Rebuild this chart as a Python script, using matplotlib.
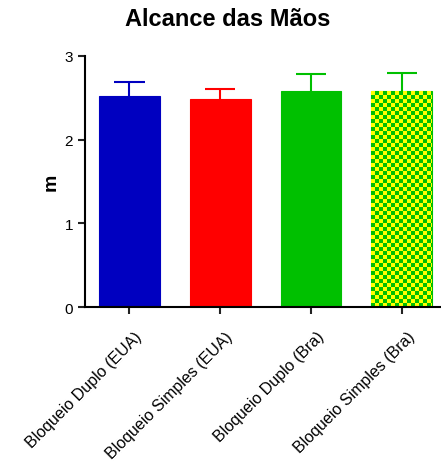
import numpy as np
import matplotlib
matplotlib.use("Agg")
import matplotlib.pyplot as plt
from matplotlib.transforms import ScaledTranslation

plt.rcParams['font.family'] = ['Liberation Sans', 'DejaVu Sans']

categories = ["Bloqueio Duplo (EUA)", "Bloqueio Simples (EUA)",
              "Bloqueio Duplo (Bra)", "Bloqueio Simples (Bra)"]
means = [2.52, 2.49, 2.58, 2.58]
errors = [0.17, 0.11, 0.21, 0.22]
colors = ["#0000C0", "#FF0000", "#00C000", "#00C000"]
title = "Alcance das Mãos"
ylabel = "m"

W, H = 441, 464
fig = plt.figure(figsize=(W / 100, H / 100), dpi=100)
ax = fig.add_axes([85 / W, (H - 308) / H, (440 - 85) / W, (308 - 57) / H])

x = np.arange(len(categories))
width = 0.67
ax.set_xlim(-0.49, 3.42)
ax.set_ylim(0, 3)

# error bars (upper only), drawn behind bars
for xi, m, e, c in zip(x, means, errors, colors):
    ax.vlines(xi, m, m + e, color=c, linewidth=1.5, zorder=1.5)
    ax.hlines(m + e, xi - width / 4, xi + width / 4, color=c, linewidth=1.5, zorder=1.5)

bars = ax.bar(x, means, width=width, color=colors, edgecolor=colors, linewidth=0.8, zorder=2)

# checkerboard fill for the last bar
last = bars[-1]
bx0, by0 = last.get_x(), last.get_y()
bw, bh = last.get_width(), last.get_height()
fig.canvas.draw()
p0 = ax.transData.transform((bx0, by0))
p1 = ax.transData.transform((bx0 + bw, by0 + bh))
cell = 4.0
nx = int(np.ceil((p1[0] - p0[0]) / cell))
ny = int(np.ceil((p1[1] - p0[1]) / cell))
yy, xx = np.mgrid[0:ny, 0:nx]
checker = (xx + yy) % 2
rgb = np.zeros((ny, nx, 3))
rgb[checker == 0] = [0, 0.75, 0]
rgb[checker == 1] = [1, 1, 0]
sx = bw * nx * cell / (p1[0] - p0[0])
sy = bh * ny * cell / (p1[1] - p0[1])
im = ax.imshow(rgb, extent=(bx0, bx0 + sx, by0, by0 + sy),
               origin='lower', aspect='auto', interpolation='nearest', zorder=2.5)
im.set_clip_path(last)
ax.set_xlim(-0.49, 3.42)
ax.set_ylim(0, 3)

ax.spines['top'].set_visible(False)
ax.spines['right'].set_visible(False)
ax.spines['left'].set_linewidth(1.5)
ax.spines['bottom'].set_linewidth(1.5)
ax.set_yticks([0, 1, 2, 3])
ax.tick_params(axis='both', direction='out', length=5, width=1.5, colors='#222222', labelcolor='black')
ax.tick_params(axis='y', labelsize=11)
ax.tick_params(axis='x', pad=10.5)
ax.set_xticks(x)
ax.set_xticklabels(categories, rotation=45, ha='right', va='top', rotation_mode='anchor', fontsize=11.5)
off = ScaledTranslation(5 / 100, 0, fig.dpi_scale_trans)
for lab in ax.get_xticklabels():
    lab.set_transform(lab.get_transform() + off)
ax.set_ylabel(ylabel, fontsize=14, fontweight='bold', labelpad=4)
fig.text(228 / W, 1 - 20 / H, title, ha='center', va='center', fontsize=17, fontweight='bold')

fig.savefig("out.png", dpi=100)
